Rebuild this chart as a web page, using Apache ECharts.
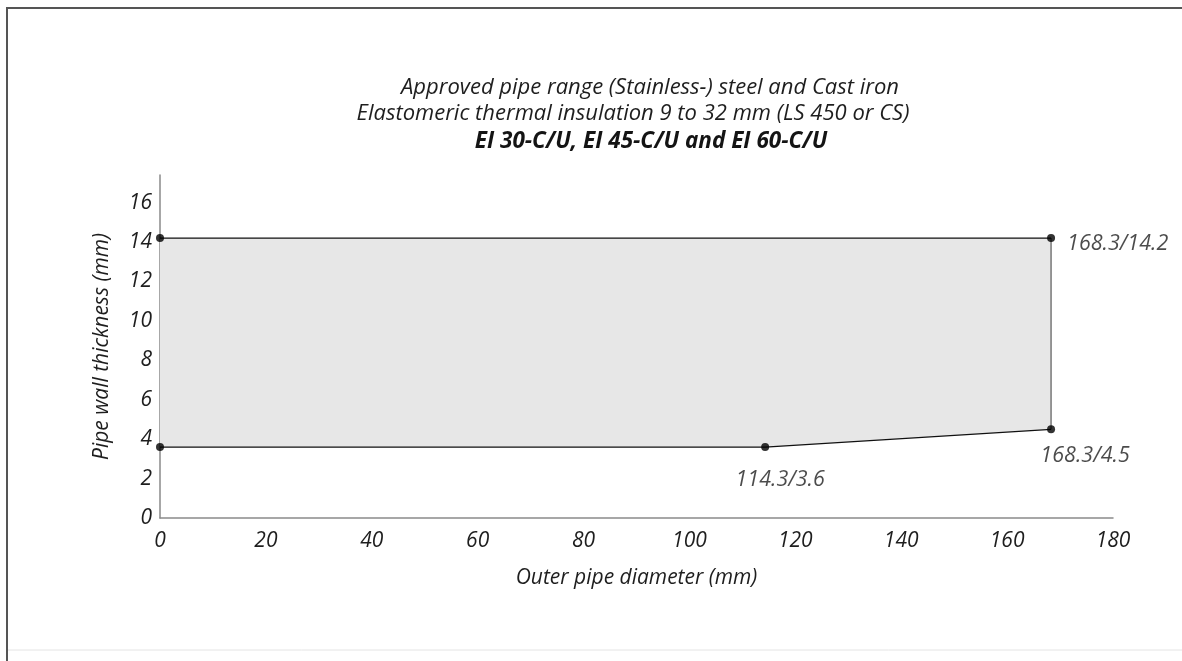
<!DOCTYPE html>
<html>
<head>
<meta charset="utf-8">
<script src="https://cdn.jsdelivr.net/npm/echarts@6/dist/echarts.min.js"></script>
<style>
html,body{margin:0;padding:0;background:#fff;}
#chart{width:1182px;height:661px;}
</style>
</head>
<body>
<div id="chart"></div>
<script>
// ---- data ----
const titleLines = [
  'Approved pipe range (Stainless-) steel and Cast iron',
  'Elastomeric thermal insulation 9 to 32 mm (LS 450 or CS)',
  'EI 30-C/U, EI 45-C/U and EI 60-C/U'
];
const xAxisName = 'Outer pipe diameter (mm)';
const yAxisName = 'Pipe wall thickness (mm)';
// polygon of the approved range (outer diameter, wall thickness)
const rangeX = [0, 114.3, 168.3, 168.3, 0];
const rangeY = [3.6, 3.6, 4.5, 14.2, 14.2];
// marked points
const pointX = [0, 168.3, 0, 114.3, 168.3];
const pointY = [14.2, 14.2, 3.6, 3.6, 4.5];
const pointLabels = ['', '168.3/14.2', '', '114.3/3.6', '168.3/4.5'];
const labelPos = ['right', 'right', 'right', 'bottom', 'bottom'];
// outlines
const bottomEdgeX = [0, 114.3, 168.3];
const bottomEdgeY = [3.6, 3.6, 4.5];
const topEdgeX = [0, 168.3];
const topEdgeY = [14.2, 14.2];
const rightEdgeX = [168.3, 168.3];
const rightEdgeY = [4.5, 14.2];

const font = '"Open Sans", "Noto Sans", sans-serif';
const textColor = '#1e1e1e';
const fs = 21;

const chart = echarts.init(document.getElementById('chart'));

const polyData = rangeX.map((x, i) => [x, rangeY[i]]);
const zip = (a, b) => a.map((v, i) => [v, b[i]]);
const labelOffsets = [[0, 0], [0, 6], [0, 0], [15, 6], [34, 0]];

chart.setOption({
  backgroundColor: '#fff',
  animation: false,
  grid: { left: 160, right: 69, top: 175, bottom: 143 },
  xAxis: {
    type: 'value', min: 0, max: 180, interval: 20,
    name: xAxisName, nameLocation: 'middle', nameGap: 50,
    nameTextStyle: { fontFamily: font, fontStyle: 'italic', fontSize: fs, color: textColor },
    axisLine: { show: true, lineStyle: { color: '#8a8a8a', width: 1.5 } },
    axisTick: { show: false },
    splitLine: { show: false },
    axisLabel: { fontFamily: font, fontStyle: 'italic', fontSize: fs, color: textColor, margin: 13 }
  },
  yAxis: {
    type: 'value', min: 0, max: 17.4, interval: 2,
    name: yAxisName, nameLocation: 'middle', nameGap: 47, nameRotate: 90,
    nameTextStyle: { fontFamily: font, fontStyle: 'italic', fontSize: fs, color: textColor },
    axisLine: { show: true, lineStyle: { color: '#8a8a8a', width: 1.5 } },
    axisTick: { show: false },
    splitLine: { show: false },
    axisLabel: { fontFamily: font, fontStyle: 'italic', fontSize: fs, color: textColor, margin: 8, showMaxLabel: false }
  },
  graphic: [
    { type: 'rect', shape: { x: 7, y: 8, width: 1200, height: 700 }, style: { fill: 'none', stroke: '#555', lineWidth: 2 }, silent: true },
    { type: 'line', shape: { x1: 8, y1: 650, x2: 1182, y2: 650 }, style: { stroke: '#e4e4e4', lineWidth: 1 } },
    { type: 'text', x: 650, y: 88, style: { text: titleLines[0], font: 'italic 22px ' + font, fill: textColor, textAlign: 'center', textVerticalAlign: 'middle' } },
    { type: 'text', x: 633, y: 114, style: { text: titleLines[1], font: 'italic 22px ' + font, fill: textColor, textAlign: 'center', textVerticalAlign: 'middle' } },
    { type: 'text', x: 651, y: 142, style: { text: titleLines[2], font: 'italic bold 22.5px ' + font, fill: '#141414', textAlign: 'center', textVerticalAlign: 'middle' } }
  ],
  series: [
    {
      type: 'custom',
      data: [0],
      renderItem: function (params, api) {
        const pts = polyData.map(p => api.coord(p));
        return { type: 'polygon', shape: { points: pts }, style: { fill: '#e7e7e7', stroke: 'none' } };
      },
      silent: true, z: 1
    },
    { type: 'line', data: zip(rightEdgeX, rightEdgeY), symbol: 'none', lineStyle: { color: '#777', width: 1.5 }, z: 2 },
    { type: 'line', data: zip(bottomEdgeX, bottomEdgeY), symbol: 'none', lineStyle: { color: '#111', width: 1.3 }, z: 3 },
    { type: 'line', data: zip(topEdgeX, topEdgeY), symbol: 'none', lineStyle: { color: '#111', width: 1.3 }, z: 3 },
    {
      type: 'scatter', z: 5,
      symbolSize: 8,
      itemStyle: { color: '#000' },
      data: pointX.map((x, i) => ({
        value: [x, pointY[i]],
        label: {
          show: pointLabels[i] !== '',
          formatter: pointLabels[i],
          position: labelPos[i],
          distance: 12,
          offset: labelOffsets[i],
          fontFamily: font, fontStyle: 'italic', fontSize: 21.5, color: textColor
        }
      }))
    }
  ]
});
</script>
</body>
</html>
